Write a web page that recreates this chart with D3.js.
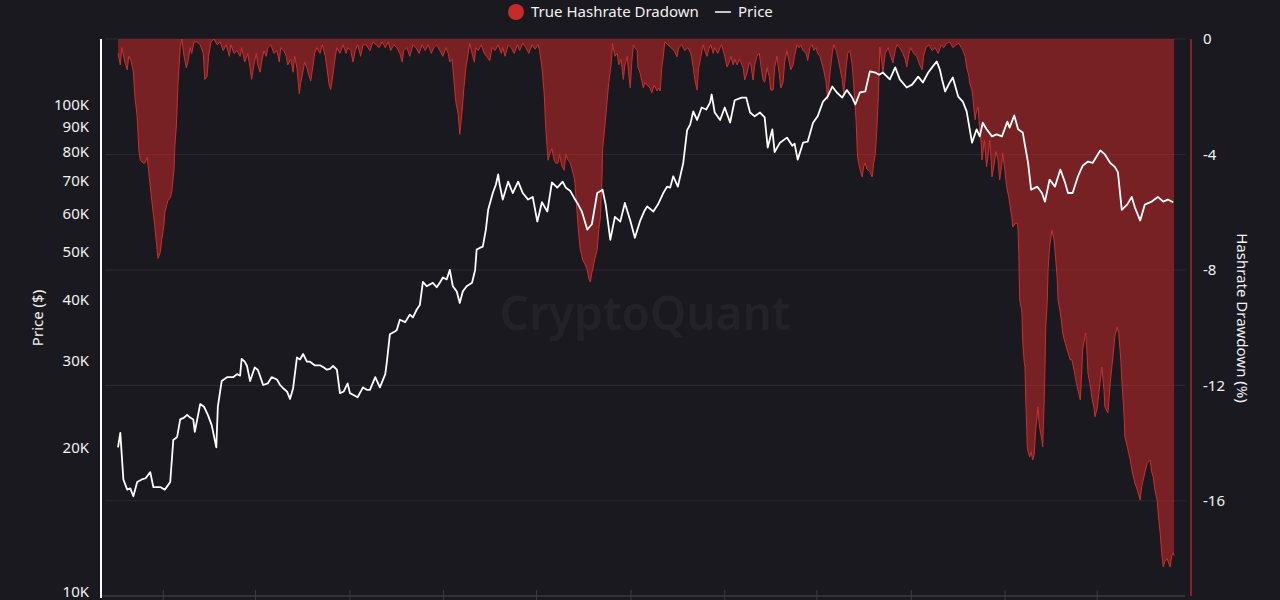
<!DOCTYPE html>
<html>
<head>
<meta charset="utf-8">
<script src="https://cdn.jsdelivr.net/npm/d3@7"></script>
<style>
  html, body { margin: 0; padding: 0; background: #1a191f; }
  svg { display: block; }
  text { font-family: "Noto Sans", "Open Sans", sans-serif; }
</style>
</head>
<body>
<svg id="chart"></svg>
<script>
// day offsets are counted from baseDate
const baseDate = new Date(2022, 10, 3);
const lastDay = 1375;

// [day, price in USD]
const price = [
  [0,20000],[3,21400],[7,17200],[12,16400],[16,16500],[20,15900],[25,17000],[31,17200],[36,17300],[42,17800],
  [46,16600],[55,16600],[61,16400],[68,17000],[72,20700],[77,21000],[81,22800],[86,23000],[90,23300],[94,23000],
  [98,22800],[100,21500],[107,24500],[112,24200],[117,23300],[122,22200],[128,20000],[130,24200],[135,27300],[142,27800],
  [150,27800],[155,28200],[159,28000],[161,30300],[165,29900],[168,29300],[172,27300],[178,29100],[182,28800],[189,26800],
  [195,27000],[200,27800],[207,27500],[211,26800],[215,26400],[220,26000],[224,25100],[228,26400],[233,30500],[237,30200],
  [241,31000],[246,29900],[250,29900],[256,29400],[263,29400],[268,29100],[272,28800],[276,28900],[280,29300],[285,28800],
  [289,25800],[294,26000],[299,27000],[302,25800],[306,25600],[312,25300],[319,26500],[324,26200],[328,26200],[335,27800],
  [341,26500],[348,28200],[350,29800],[354,34000],[361,34500],[363,34700],[367,36400],[374,36000],[380,37300],[384,36800],
  [389,38200],[393,39000],[397,43500],[402,42600],[410,43300],[415,42400],[419,43300],[423,44400],[428,44000],[432,46000],
  [436,42600],[441,41600],[445,39400],[449,41600],[454,42600],[461,43300],[465,46000],[467,50600],[471,51000],[475,51300],
  [479,55600],[482,61000],[488,66000],[492,68600],[495,72000],[497,68600],[501,64000],[508,69600],[514,66000],[521,69600],
  [527,66000],[534,64000],[540,64800],[546,57700],[552,63200],[559,60500],[565,69400],[572,67700],[579,69600],[583,67700],
  [589,66600],[594,64500],[598,63000],[604,60500],[611,55600],[617,57000],[624,66000],[631,67000],[635,62500],[641,53000],
  [647,59000],[654,57700],[660,63000],[667,58000],[673,53500],[680,58000],[685,60500],[689,62000],[697,60500],[703,62500],
  [710,66000],[715,68000],[719,67700],[723,71400],[729,68000],[736,76000],[741,88600],[745,91000],[749,96800],[754,93000],
  [760,98600],[766,97700],[771,101000],[773,104800],[777,96300],[784,93000],[790,98600],[797,91900],[803,102000],[812,103300],
  [818,103300],[823,96300],[829,94600],[836,96300],[842,94100],[846,81700],[852,89000],[855,80000],[862,83600],[871,85600],
  [878,82400],[881,83200],[885,77200],[892,83600],[898,84000],[905,91800],[911,94600],[918,101400],[924,103800],[930,108800],
  [936,105800],[943,103300],[949,107000],[956,103300],[960,100000],[966,105800],[973,106300],[979,116800],[986,116200],[991,115000],
  [996,116200],[1005,112500],[1012,119000],[1018,112500],[1027,108300],[1034,109800],[1042,114000],[1048,110900],[1055,116200],[1061,119600],
  [1066,122400],[1070,118000],[1073,112500],[1077,106300],[1083,110900],[1087,113500],[1094,103800],[1100,101400],[1105,96800],[1112,83600],
  [1118,89000],[1122,86100],[1126,91800],[1131,89000],[1138,86100],[1144,86900],[1151,86100],[1158,92300],[1161,89700],[1167,95000],
  [1172,89000],[1178,87700],[1185,76000],[1189,67000],[1197,68000],[1203,66000],[1207,63400],[1213,70300],[1220,68000],[1227,73700],
  [1233,69400],[1237,66000],[1243,66000],[1250,71400],[1256,75000],[1263,76500],[1269,76000],[1279,80600],[1285,79100],[1292,76000],
  [1298,74600],[1302,72700],[1307,61000],[1314,62500],[1320,64800],[1324,61700],[1331,58000],[1337,62500],[1346,63400],[1354,64800],
  [1361,63400],[1367,64000],[1374,63200]
];

// [day, true hashrate drawdown in %]
const drawdown = [
  [0,-0.5],[3,-0.9],[5,-0.3],[9,-0.8],[12,-1.07],[14,-0.6],[17,-0.75],[20,-1.15],[22,-2.0],[25,-2.7],
  [27,-3.8],[29,-4.2],[33,-4.3],[35,-4.3],[38,-4.1],[42,-5.1],[44,-5.6],[48,-6.5],[51,-7.3],[52,-7.6],
  [55,-7.4],[57,-6.95],[60,-6.4],[61,-6.0],[64,-5.7],[65,-5.6],[68,-5.5],[70,-5.3],[73,-4.5],[74,-3.7],
  [76,-3.0],[77,-2.35],[78,-1.6],[81,-0.3],[83,0],[86,-0.6],[89,-1.0],[91,-0.8],[94,-0.3],[96,-0.5],
  [99,-0.1],[103,-0.1],[107,-0.2],[111,-0.5],[113,-1.4],[116,-1.3],[118,-0.6],[121,-0.1],[125,0],[129,-0.2],
  [133,-0.1],[137,-0.4],[141,-0.2],[145,-0.6],[147,-0.2],[151,-0.5],[155,-0.4],[159,-0.6],[161,-0.3],[165,-0.8],
  [169,-0.5],[172,-1.0],[174,-1.4],[177,-0.9],[180,-0.5],[182,-0.9],[185,-1.15],[187,-0.8],[190,-0.4],[193,-0.6],
  [195,-0.3],[199,-0.2],[203,-0.5],[207,-0.4],[210,-0.8],[212,-0.3],[216,-0.4],[219,-0.6],[221,-0.9],[225,-0.7],
  [228,-1.15],[230,-0.6],[233,-1.0],[236,-1.9],[238,-1.5],[241,-1.1],[243,-0.8],[246,-1.0],[249,-1.3],[251,-1.45],
  [254,-0.9],[256,-0.5],[259,-0.3],[263,-0.5],[266,-0.2],[270,-0.6],[272,-1.0],[275,-1.6],[277,-1.75],[280,-1.2],
  [283,-0.6],[285,-0.3],[289,-0.5],[293,-0.2],[297,-0.5],[299,-0.3],[303,-0.4],[306,-0.8],[309,-0.4],[312,-0.2],
  [316,-0.6],[319,-0.2],[323,-0.2],[328,-0.4],[332,-0.1],[336,-0.2],[340,-0.3],[344,-0.1],[348,-0.3],[352,-0.1],
  [355,-0.4],[359,-0.2],[363,-0.3],[367,-0.5],[370,-0.8],[372,-0.4],[376,-0.3],[380,-0.6],[384,-0.2],[388,-0.3],
  [392,-0.5],[396,-0.2],[400,-0.4],[404,-0.2],[408,-0.5],[411,-0.3],[415,-0.2],[419,-0.4],[423,-0.6],[427,-0.3],
  [430,-0.5],[432,-0.8],[435,-0.7],[437,-1.3],[440,-2.2],[443,-2.6],[445,-3.3],[448,-2.5],[450,-1.8],[453,-1.0],
  [456,-0.5],[458,-0.15],[461,-0.5],[464,-0.8],[466,-0.3],[469,-0.4],[473,-0.2],[477,-0.5],[480,-0.6],[484,-0.75],
  [487,-0.3],[491,-0.4],[495,-0.2],[499,-0.5],[501,-0.3],[504,-0.6],[508,-0.2],[512,-0.3],[516,-0.5],[520,-0.2],
  [523,-0.4],[527,-0.15],[531,-0.3],[535,-0.5],[539,-0.2],[543,-0.35],[547,-0.2],[549,-0.4],[552,-0.97],[555,-1.9],
  [557,-3.1],[560,-4.2],[562,-4.0],[565,-3.8],[568,-4.2],[570,-4.3],[573,-4.3],[575,-4.0],[578,-4.4],[581,-4.55],
  [583,-4.0],[586,-4.2],[589,-4.3],[591,-4.5],[594,-4.8],[595,-5.0],[598,-6.1],[600,-6.8],[602,-7.3],[604,-7.5],
  [605,-7.65],[608,-7.8],[611,-8.0],[613,-8.3],[615,-8.42],[617,-8.1],[618,-8.0],[621,-7.6],[624,-7.3],[626,-6.6],
  [628,-6.2],[630,-5.0],[631,-3.8],[634,-3.0],[637,-2.1],[639,-1.5],[642,-0.9],[644,-0.15],[647,-0.6],[650,-0.5],
  [652,-0.9],[655,-0.7],[658,-1.4],[660,-0.9],[663,-0.6],[665,-1.2],[667,-1.7],[669,-0.8],[671,-0.2],[673,-0.3],
  [676,-0.4],[677,-0.97],[680,-1.2],[684,-1.7],[686,-1.5],[689,-1.6],[693,-1.7],[695,-1.87],[698,-1.6],[702,-1.8],
  [704,-1.7],[706,-1.8],[708,-1.0],[710,-0.6],[712,-0.1],[716,-0.2],[720,-0.3],[724,-0.4],[728,-0.62],[730,-0.3],
  [734,-0.2],[738,-0.4],[742,-0.3],[746,-0.5],[749,-0.97],[751,-1.4],[754,-1.77],[756,-1.0],[759,-0.6],[762,-0.2],
  [764,-0.4],[767,-0.6],[770,-0.3],[772,-0.2],[775,-0.5],[777,-0.3],[781,-0.5],[784,-0.3],[786,-0.2],[790,-0.6],
  [793,-0.97],[796,-0.8],[798,-0.6],[801,-0.9],[803,-0.7],[806,-0.9],[809,-0.7],[811,-0.8],[814,-1.0],[816,-1.42],
  [819,-1.18],[822,-0.8],[824,-0.9],[827,-1.42],[829,-0.9],[832,-0.6],[835,-0.5],[837,-0.9],[840,-1.42],[842,-1.5],
  [845,-1.0],[848,-1.3],[850,-1.77],[853,-1.77],[855,-1.0],[858,-0.6],[861,-1.2],[863,-1.7],[866,-1.5],[868,-0.8],
  [871,-0.4],[874,-0.8],[876,-1.07],[879,-0.9],[881,-0.6],[884,-0.2],[887,-0.3],[889,-0.2],[892,-0.4],[896,-0.5],
  [898,-0.75],[901,-0.3],[904,-0.2],[906,-0.4],[909,-0.3],[911,-0.5],[914,-0.6],[917,-0.9],[919,-1.1],[922,-1.5],
  [924,-2.1],[927,-1.2],[930,-0.5],[932,-0.2],[935,-0.4],[937,-0.6],[940,-1.0],[943,-1.4],[945,-1.9],[948,-1.0],
  [950,-0.5],[953,-0.4],[956,-0.9],[958,-1.6],[961,-2.8],[963,-4.1],[966,-4.5],[969,-4.78],[971,-4.4],[973,-4.3],
  [975,-4.5],[977,-4.54],[979,-4.6],[982,-4.78],[984,-4.3],[986,-4.0],[988,-3.15],[990,-2.0],[992,-0.28],[995,-0.9],
  [996,-1.18],[999,-0.5],[1003,-0.3],[1005,-0.5],[1009,-0.83],[1012,-0.4],[1014,-0.2],[1018,-0.3],[1022,-0.5],[1025,-0.7],
  [1027,-0.97],[1030,-0.5],[1032,-0.3],[1036,-0.5],[1040,-0.6],[1044,-0.9],[1047,-1.07],[1049,-0.6],[1052,-0.3],[1056,-0.2],
  [1060,-0.4],[1064,-0.3],[1068,-0.5],[1072,-0.2],[1075,-0.3],[1079,-0.15],[1083,-0.1],[1087,-0.3],[1091,-0.2],[1095,-0.15],
  [1098,-0.3],[1100,-0.38],[1103,-0.6],[1105,-0.97],[1108,-1.3],[1109,-1.52],[1112,-1.8],[1113,-2.0],[1116,-2.8],[1117,-2.6],
  [1120,-2.35],[1121,-2.8],[1122,-3.15],[1124,-3.6],[1125,-4.19],[1128,-3.5],[1129,-3.8],[1131,-4.43],[1134,-3.8],[1135,-3.5],
  [1137,-4.2],[1138,-4.78],[1141,-4.3],[1143,-3.9],[1146,-4.2],[1148,-4.88],[1151,-4.3],[1152,-3.95],[1155,-4.6],[1157,-5.1],
  [1160,-5.5],[1161,-5.68],[1164,-6.2],[1165,-6.51],[1168,-6.4],[1171,-6.37],[1172,-6.61],[1173,-7.5],[1174,-9.0],[1176,-9.3],
  [1177,-9.5],[1178,-10.5],[1180,-11.2],[1181,-11.36],[1182,-12.5],[1184,-14.13],[1185,-14.3],[1187,-14.48],[1189,-14.3],[1191,-14.58],
  [1193,-14.4],[1195,-13.5],[1198,-12.74],[1199,-13.2],[1200,-13.44],[1203,-13.9],[1204,-14.13],[1206,-12.5],[1207,-11.36],[1208,-10.0],
  [1210,-9.04],[1211,-8.0],[1213,-7.2],[1216,-6.61],[1219,-7.0],[1220,-7.31],[1223,-8.3],[1224,-9.04],[1227,-9.49],[1229,-9.9],
  [1230,-10.18],[1233,-10.5],[1236,-10.77],[1240,-11.12],[1242,-11.1],[1245,-11.5],[1249,-12.05],[1253,-12.5],[1255,-11.5],[1256,-10.77],
  [1259,-10.3],[1260,-10.18],[1262,-11.0],[1263,-11.57],[1266,-12.0],[1268,-12.4],[1271,-12.8],[1272,-13.09],[1275,-12.8],[1277,-12.3],
  [1281,-11.36],[1284,-12.2],[1285,-12.74],[1288,-12.9],[1289,-12.95],[1292,-11.9],[1296,-10.87],[1298,-10.3],[1301,-9.97],[1303,-10.2],
  [1306,-11.2],[1307,-11.81],[1310,-13.0],[1311,-13.78],[1314,-14.1],[1318,-14.58],[1320,-14.9],[1324,-15.38],[1327,-15.6],[1331,-15.97],
  [1333,-15.5],[1337,-15.03],[1340,-14.7],[1344,-14.58],[1346,-15.0],[1348,-15.17],[1350,-15.6],[1353,-15.97],[1355,-16.6],[1357,-17.11],
  [1359,-17.8],[1361,-18.29],[1363,-18.1],[1366,-18.0],[1370,-18.29],[1372,-17.9],[1374,-17.8],[1375,-17.9]
];

const priceTicks = [10000, 20000, 30000, 40000, 50000, 60000, 70000, 80000, 90000, 100000];
const drawdownTicks = [0, -4, -8, -12, -16];

const width = 1280, height = 600;
const plot = { left: 101, right: 1185, top: 39, bottom: 595 };

const svg = d3.select('#chart')
  .attr('width', width)
  .attr('height', height)
  .attr('viewBox', `0 0 ${width} ${height}`);

svg.append('rect').attr('width', width).attr('height', height).attr('fill', '#1a191f');

const day = d => d3.timeDay.offset(baseDate, d);

const x = d3.scaleTime()
  .domain([baseDate, day(lastDay)])
  .range([118, 1174]);

const yPrice = d3.scaleLog()
  .domain([10000, 136000])
  .range([plot.bottom, plot.top]);

const yDraw = d3.scaleLinear()
  .domain([-19.26, 0])
  .range([plot.bottom, plot.top]);

// horizontal grid from the drawdown axis
svg.append('g')
  .selectAll('line')
  .data(drawdownTicks)
  .join('line')
  .attr('x1', plot.left + 4)
  .attr('x2', plot.right)
  .attr('y1', d => yDraw(d))
  .attr('y2', d => yDraw(d))
  .attr('stroke', '#2d2c33')
  .attr('stroke-width', 1);

// watermark
svg.append('text')
  .attr('x', 645)
  .attr('y', 330)
  .attr('text-anchor', 'middle')
  .attr('font-size', 46)
  .attr('font-weight', 600)
  .attr('fill', '#232229')
  .text('CryptoQuant');

// drawdown area
const area = d3.area()
  .x(d => x(day(d[0])))
  .y0(yDraw(0))
  .y1(d => yDraw(d[1]));

svg.append('path')
  .datum(drawdown)
  .attr('d', area)
  .attr('fill', 'rgba(198, 40, 40, 0.55)');

svg.append('path')
  .datum(drawdown)
  .attr('d', d3.line().x(d => x(day(d[0]))).y(d => yDraw(d[1])))
  .attr('fill', 'none')
  .attr('stroke', '#c9302f')
  .attr('stroke-width', 1);

// price line
svg.append('path')
  .datum(price)
  .attr('d', d3.line().x(d => x(day(d[0]))).y(d => yPrice(d[1])))
  .attr('fill', 'none')
  .attr('stroke', '#ffffff')
  .attr('stroke-width', 1.8)
  .attr('stroke-linejoin', 'round');

// bottom axis
const xAxis = svg.append('g').attr('transform', `translate(0,${plot.bottom + 1})`);
xAxis.append('line')
  .attr('x1', plot.left).attr('x2', plot.right)
  .attr('stroke', '#4a4a52');
xAxis.selectAll('line.tick')
  .data(x.ticks(d3.timeMonth.every(4)))
  .join('line')
  .attr('class', 'tick')
  .attr('x1', d => x(d)).attr('x2', d => x(d))
  .attr('y1', -6).attr('y2', 6)
  .attr('stroke', '#3c3c44');

// left axis
svg.append('line')
  .attr('x1', plot.left).attr('x2', plot.left)
  .attr('y1', plot.top).attr('y2', plot.bottom + 3)
  .attr('stroke', '#ffffff')
  .attr('stroke-width', 2);

svg.append('g')
  .selectAll('text')
  .data(priceTicks)
  .join('text')
  .attr('x', 89)
  .attr('y', d => Math.min(yPrice(d), 592))
  .attr('dy', '0.35em')
  .attr('text-anchor', 'end')
  .attr('font-size', 15)
  .attr('fill', '#f2f2f2')
  .text(d => d3.format('d')(d / 1000) + 'K');

svg.append('text')
  .attr('transform', 'translate(43,318) rotate(-90)')
  .attr('text-anchor', 'middle')
  .attr('font-size', 15)
  .attr('fill', '#f2f2f2')
  .text('Price ($)');

// right axis
svg.append('line')
  .attr('x1', 1191).attr('x2', 1191)
  .attr('y1', plot.top).attr('y2', plot.bottom + 1)
  .attr('stroke', '#a8292b')
  .attr('stroke-width', 1.5);

svg.append('g')
  .selectAll('text')
  .data(drawdownTicks)
  .join('text')
  .attr('x', 1203)
  .attr('y', d => yDraw(d))
  .attr('dy', '0.35em')
  .attr('font-size', 15)
  .attr('fill', '#f2f2f2')
  .text(d => d);

svg.append('text')
  .attr('transform', 'translate(1237,318) rotate(90)')
  .attr('text-anchor', 'middle')
  .attr('font-size', 15)
  .attr('fill', '#f2f2f2')
  .text('Hashrate Drawdown (%)');

// legend
const legend = svg.append('g');
legend.append('circle')
  .attr('cx', 516).attr('cy', 12).attr('r', 8)
  .attr('fill', '#c42b2b');
legend.append('text')
  .attr('x', 531).attr('y', 17)
  .attr('font-size', 15)
  .attr('fill', '#f2f2f2')
  .text('True Hashrate Dradown');
legend.append('line')
  .attr('x1', 715).attr('x2', 731)
  .attr('y1', 12).attr('y2', 12)
  .attr('stroke', '#ffffff')
  .attr('stroke-width', 1.5);
legend.append('text')
  .attr('x', 738).attr('y', 17)
  .attr('font-size', 15)
  .attr('fill', '#f2f2f2')
  .text('Price');
</script>
</body>
</html>
